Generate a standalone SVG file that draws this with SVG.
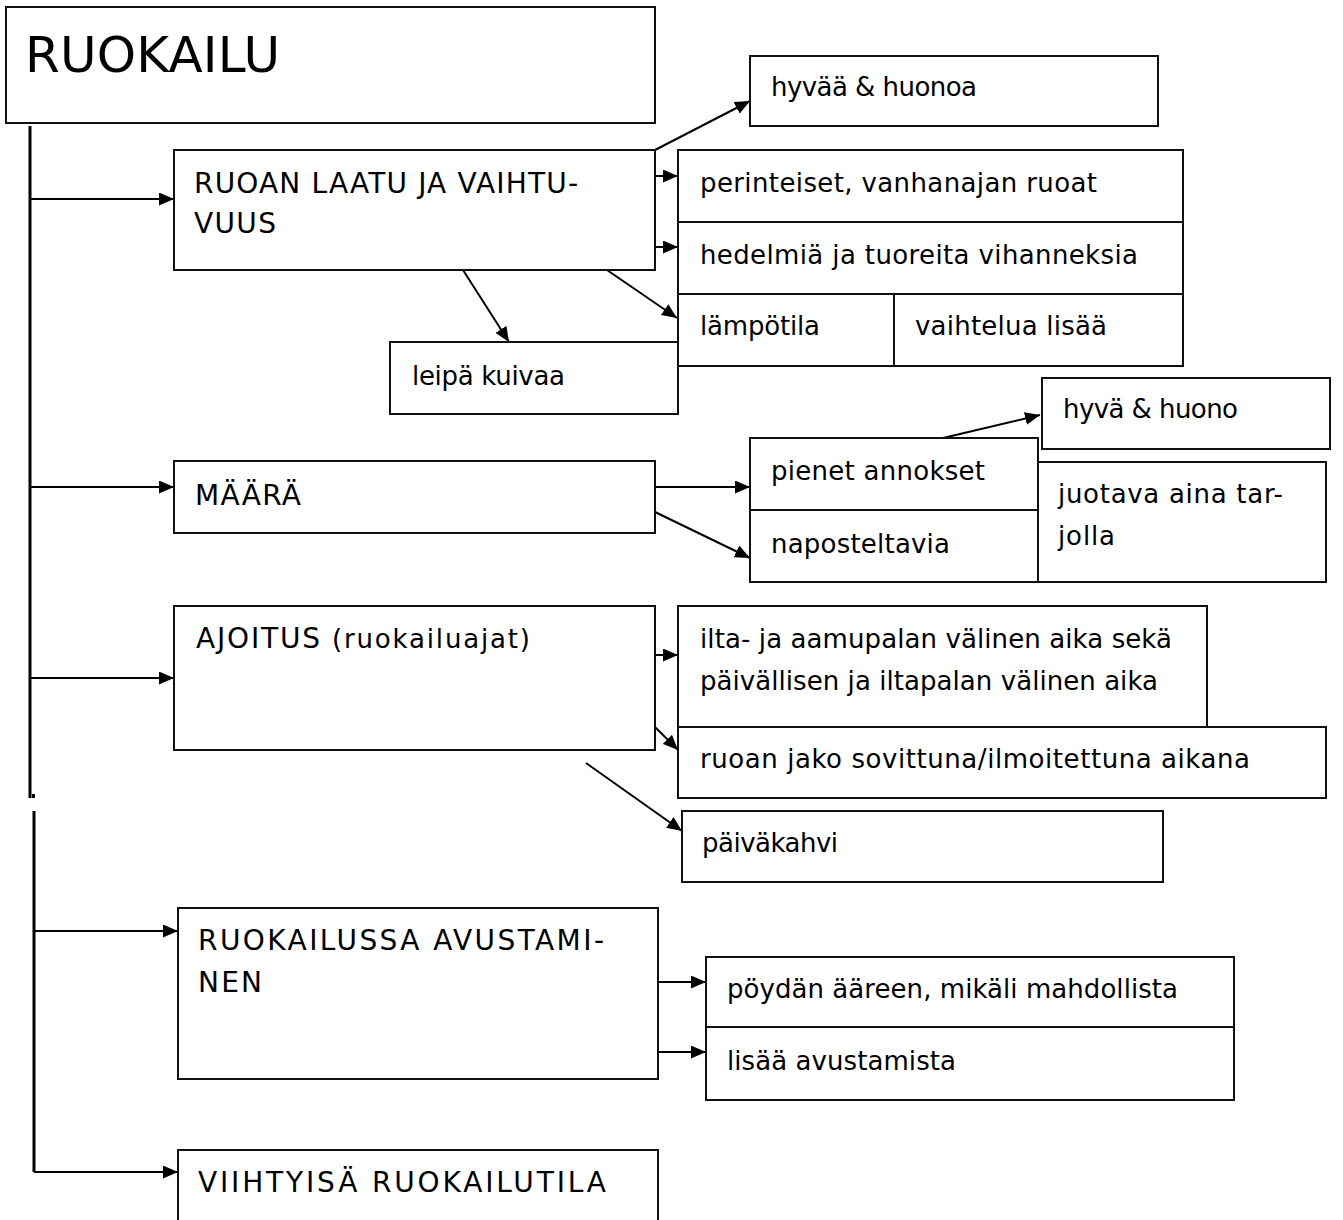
<svg xmlns="http://www.w3.org/2000/svg" width="1343" height="1220" viewBox="0 0 1343 1220">
<style>
.box{fill:#fff;stroke:#111;stroke-width:2}
.t{font-family:"DejaVu Sans","Liberation Sans",sans-serif;font-size:26px;fill:#000}
.u{font-size:28px}
.big{font-size:50px}
.c{stroke:#000;stroke-width:2;fill:none}
.trunk{stroke:#000;stroke-width:3;fill:none}
</style>
<defs>
<marker id="ah" markerUnits="userSpaceOnUse" markerWidth="15" markerHeight="13" refX="15" refY="6.5" orient="auto">
<path d="M0,0 L15,6.5 L0,13 z" fill="#000"/>
</marker>
</defs>
<rect width="1343" height="1220" fill="#fff"/>

<g id="connectors">
<line class="trunk" x1="30" y1="126" x2="30" y2="798"/>
<rect x="32" y="794" width="3" height="4" fill="#000"/>
<line class="trunk" x1="34" y1="811" x2="34" y2="1172"/>
<line class="c" x1="30" y1="199" x2="174" y2="199" marker-end="url(#ah)"/>
<line class="c" x1="30" y1="487" x2="174" y2="487" marker-end="url(#ah)"/>
<line class="c" x1="30" y1="678" x2="174" y2="678" marker-end="url(#ah)"/>
<line class="c" x1="34" y1="931" x2="178" y2="931" marker-end="url(#ah)"/>
<line class="c" x1="34" y1="1172" x2="178" y2="1172" marker-end="url(#ah)"/>
<line class="c" x1="655" y1="150" x2="750" y2="101" marker-end="url(#ah)"/>
<line class="c" x1="655" y1="176" x2="678" y2="176" marker-end="url(#ah)"/>
<line class="c" x1="655" y1="247" x2="678" y2="247" marker-end="url(#ah)"/>
<line class="c" x1="463" y1="270" x2="509" y2="342" marker-end="url(#ah)"/>
<line class="c" x1="607" y1="270" x2="677" y2="318" marker-end="url(#ah)"/>
<line class="c" x1="943" y1="438" x2="1040" y2="415" marker-end="url(#ah)"/>
<line class="c" x1="655" y1="487" x2="750" y2="487" marker-end="url(#ah)"/>
<line class="c" x1="655" y1="512" x2="750" y2="558" marker-end="url(#ah)"/>
<line class="c" x1="655" y1="655" x2="678" y2="655" marker-end="url(#ah)"/>
<line class="c" x1="655" y1="727" x2="678" y2="750" marker-end="url(#ah)"/>
<line class="c" x1="586" y1="763" x2="682" y2="831" marker-end="url(#ah)"/>
<line class="c" x1="658" y1="982" x2="706" y2="982" marker-end="url(#ah)"/>
<line class="c" x1="658" y1="1052" x2="706" y2="1052" marker-end="url(#ah)"/>
</g>

<g id="ruokailu">
<rect class="box" x="6" y="7" width="649" height="116"/>
<text class="t big" x="25" y="72" textLength="255">RUOKAILU</text>
</g>

<g id="laatu">
<rect class="box" x="174" y="150" width="481" height="120"/>
<text class="t u" x="194" y="193" textLength="384">RUOAN LAATU JA VAIHTU-</text>
<text class="t u" x="194" y="233" textLength="82">VUUS</text>
</g>

<g id="hyvaa-huonoa">
<rect class="box" x="750" y="56" width="408" height="70"/>
<text class="t" x="771" y="96" textLength="206">hyvää &amp; huonoa</text>
</g>

<g id="perinteiset">
<rect class="box" x="678" y="150" width="505" height="72"/>
<text class="t" x="700" y="192" textLength="397">perinteiset, vanhanajan ruoat</text>
</g>

<g id="hedelmia">
<rect class="box" x="678" y="222" width="505" height="72"/>
<text class="t" x="700" y="264" textLength="438">hedelmiä ja tuoreita vihanneksia</text>
</g>

<g id="lampotila">
<rect class="box" x="678" y="294" width="216" height="72"/>
<text class="t" x="700" y="335" textLength="120">lämpötila</text>
</g>

<g id="vaihtelua">
<rect class="box" x="894" y="294" width="289" height="72"/>
<text class="t" x="915" y="335" textLength="192">vaihtelua lisää</text>
</g>

<g id="leipa">
<rect class="box" x="390" y="342" width="288" height="72"/>
<text class="t" x="412" y="385" textLength="153">leipä kuivaa</text>
</g>

<g id="hyva-huono">
<rect class="box" x="1042" y="378" width="288" height="71"/>
<text class="t" x="1063" y="418" textLength="175">hyvä &amp; huono</text>
</g>

<g id="maara">
<rect class="box" x="174" y="461" width="481" height="72"/>
<text class="t u" x="195" y="505" textLength="106">MÄÄRÄ</text>
</g>

<g id="pienet">
<rect class="box" x="750" y="438" width="288" height="72"/>
<text class="t" x="771" y="480" textLength="214">pienet annokset</text>
</g>

<g id="naposteltavia">
<rect class="box" x="750" y="510" width="288" height="72"/>
<text class="t" x="771" y="553" textLength="179">naposteltavia</text>
</g>

<g id="juotava">
<rect class="box" x="1038" y="462" width="288" height="120"/>
<text class="t" x="1058" y="503" textLength="225">juotava aina tar-</text>
<text class="t" x="1058" y="545" textLength="57">jolla</text>
</g>

<g id="ajoitus">
<rect class="box" x="174" y="606" width="481" height="144"/>
<text class="t" x="196" y="648" textLength="334"><tspan class="u">AJOITUS</tspan> (ruokailuajat)</text>
</g>

<g id="ilta">
<rect class="box" x="678" y="606" width="529" height="121"/>
<text class="t" x="700" y="648" textLength="472">ilta- ja aamupalan välinen aika sekä</text>
<text class="t" x="700" y="690" textLength="458">päivällisen ja iltapalan välinen aika</text>
</g>

<g id="ruoan-jako">
<rect class="box" x="678" y="727" width="648" height="71"/>
<text class="t" x="700" y="768" textLength="550">ruoan jako sovittuna/ilmoitettuna aikana</text>
</g>

<g id="paivakahvi">
<rect class="box" x="682" y="811" width="481" height="71"/>
<text class="t" x="702" y="852" textLength="136">päiväkahvi</text>
</g>

<g id="avustaminen">
<rect class="box" x="178" y="908" width="480" height="171"/>
<text class="t u" x="198" y="950" textLength="406">RUOKAILUSSA AVUSTAMI-</text>
<text class="t u" x="198" y="992" textLength="64">NEN</text>
</g>

<g id="poydan">
<rect class="box" x="706" y="957" width="528" height="70"/>
<text class="t" x="727" y="998" textLength="451">pöydän ääreen, mikäli mahdollista</text>
</g>

<g id="lisaa-avustamista">
<rect class="box" x="706" y="1027" width="528" height="73"/>
<text class="t" x="727" y="1070" textLength="229">lisää avustamista</text>
</g>

<g id="viihtyisa">
<rect class="box" x="178" y="1150" width="480" height="90"/>
<text class="t u" x="198" y="1192" textLength="408">VIIHTYISÄ RUOKAILUTILA</text>
</g>
</svg>
